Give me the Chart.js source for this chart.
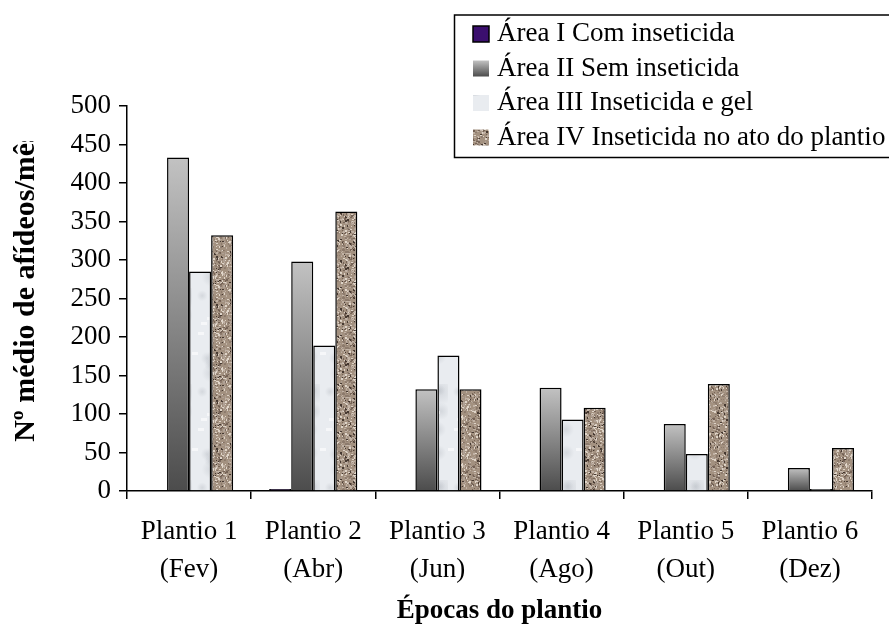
<!DOCTYPE html>
<html>
<head>
<meta charset="utf-8">
<script src="https://cdn.jsdelivr.net/npm/chart.js@4.4.1/dist/chart.umd.min.js"></script>
<style>
  html, body { margin: 0; padding: 0; background: #fff; }
  #wrap { width: 889px; height: 627px; position: relative; }
</style>
</head>
<body>
<div id="wrap"><canvas id="c" width="889" height="627"></canvas></div>
<script>
// ---- data ----
const categories = [["Plantio 1", "(Fev)"], ["Plantio 2", "(Abr)"], ["Plantio 3", "(Jun)"], ["Plantio 4", "(Ago)"], ["Plantio 5", "(Out)"], ["Plantio 6", "(Dez)"]];
const seriesNames = ["Área I Com inseticida", "Área II Sem inseticida", "Área III Inseticida e gel", "Área IV Inseticida no ato do plantio"];
const areaI   = [0, 2.5, 0, 0, 0, 0];
const areaII  = [433, 298, 132, 134, 87, 30];
const areaIII = [285, 189, 176, 93, 48, 2.5];
const areaIV  = [332, 363, 132, 108, 139, 56];
const yTicks = { min: 0, max: 500, step: 50 };
const xTitle = "Épocas do plantio";
const yTitle = "Nº médio de afídeos/mês";

// ---- styling helpers ----
const canvas = document.getElementById('c');
const ctx0 = canvas.getContext('2d');
function rng(seed) { let s = seed >>> 0; return () => { s = (Math.imul(s, 1664525) + 1013904223) >>> 0; return s / 4294967296; }; }

function makeGranite() {
  const c = document.createElement('canvas'); c.width = 48; c.height = 48;
  const g = c.getContext('2d');
  g.fillStyle = '#a39180'; g.fillRect(0, 0, 48, 48);
  const r = rng(11);
  const cols = ['rgba(228,218,206,0.9)', 'rgba(196,182,168,0.9)', 'rgba(140,122,108,0.9)', 'rgba(110,92,80,0.85)', 'rgba(60,48,40,0.9)', 'rgba(176,162,150,0.9)'];
  const w = [0.18, 0.2, 0.2, 0.17, 0.12, 0.13];
  for (let i = 0; i < 700; i++) {
    const x = Math.floor(r() * 48), y = Math.floor(r() * 48);
    let t = r(), k = 0, acc = w[0];
    while (t > acc && k < w.length - 1) { k++; acc += w[k]; }
    g.fillStyle = cols[k];
    g.fillRect(x, y, r() < 0.5 ? 2 : 1, r() < 0.5 ? 2 : 1);
  }
  return ctx0.createPattern(c, 'repeat');
}
function makeMarble() {
  const c = document.createElement('canvas'); c.width = 64; c.height = 96;
  const g = c.getContext('2d');
  g.fillStyle = '#e9ecf0'; g.fillRect(0, 0, 64, 96);
  const r = rng(5);
  for (let i = 0; i < 16; i++) {
    const x = r() * 64, y = r() * 96, rad = 4 + r() * 10;
    const rg = g.createRadialGradient(x, y, 0, x, y, rad);
    rg.addColorStop(0, 'rgba(180,185,192,0.4)');
    rg.addColorStop(1, 'rgba(180,185,192,0)');
    g.fillStyle = rg; g.fillRect(x - rad, y - rad, rad * 2, rad * 2);
  }
  for (let i = 0; i < 6; i++) {
    g.fillStyle = 'rgba(255,255,255,0.6)';
    g.fillRect(Math.floor(r() * 64), Math.floor(r() * 96), 6, 3);
  }
  return ctx0.createPattern(c, 'repeat');
}
const granite = makeGranite();
const marble = makeMarble();
const purple = '#3b0f6e';

function grayGradient(ctx, top, bottom) {
  if (!isFinite(top) || !isFinite(bottom) || top === bottom) return '#8a8a8a';
  const g = ctx.createLinearGradient(0, top, 0, bottom);
  g.addColorStop(0, '#c2c2c2');
  g.addColorStop(1, '#4c4c4c');
  return g;
}

const serif = "'Liberation Serif', 'Times New Roman', serif";

// y title plugin (clipped at the top like the reference)
const yTitlePlugin = {
  id: 'yTitle',
  afterDraw(chart) {
    const c = chart.ctx;
    c.save();
    c.beginPath(); c.rect(0, 141, 120, 486); c.clip();
    c.translate(34, 286.5);
    c.rotate(-Math.PI / 2);
    c.font = 'bold 30px ' + serif;
    c.fillStyle = '#000';
    c.textAlign = 'center';
    c.textBaseline = 'alphabetic';
    c.fillText(yTitle, 0, 0);
    c.restore();
  }
};

// legend box plugin
const legendPlugin = {
  id: 'boxLegend',
  afterDraw(chart) {
    const c = chart.ctx;
    c.save();
    c.lineWidth = 1.5; c.strokeStyle = '#000';
    c.strokeRect(454.5, 15, 450, 142.5);
    c.font = '27px ' + serif;
    c.textBaseline = 'middle';
    c.textAlign = 'left';
    chart.data.datasets.forEach((ds, i) => {
      const cy = 34 + i * 34.5;
      const x0 = 473, s = 16;
      let fill;
      if (i === 0) fill = purple;
      else if (i === 1) fill = grayGradient(c, cy - s / 2, cy + s / 2);
      else if (i === 2) fill = marble;
      else fill = granite;
      c.fillStyle = fill;
      c.fillRect(x0, cy - s / 2, s, s);
      if (i === 0) { c.lineWidth = 1.5; c.strokeStyle = '#000'; c.strokeRect(x0, cy - s / 2, s, s); }
      c.fillStyle = '#000';
      c.fillText(ds.label, 497, cy);
    });
    c.restore();
  }
};

const commonBar = { borderColor: '#000', borderWidth: 1.5, barPercentage: 1.0, categoryPercentage: 0.71 };

new Chart(canvas, {
  type: 'bar',
  data: {
    labels: categories,
    datasets: [
      Object.assign({ label: seriesNames[0], data: areaI, backgroundColor: purple }, commonBar),
      Object.assign({
        label: seriesNames[1], data: areaII,
        backgroundColor: (cx) => {
          const ch = cx.chart, ys = ch.scales && ch.scales.y;
          if (!ys || cx.type !== 'data') return '#8a8a8a';
          return grayGradient(ch.ctx, ys.getPixelForValue(cx.raw), ys.getPixelForValue(0));
        }
      }, commonBar),
      Object.assign({ label: seriesNames[2], data: areaIII, backgroundColor: marble }, commonBar),
      Object.assign({ label: seriesNames[3], data: areaIV, backgroundColor: granite }, commonBar)
    ]
  },
  options: {
    responsive: false,
    animation: false,
    devicePixelRatio: 1,
    layout: { padding: { top: 106, right: 17, left: 0, bottom: 0 } },
    plugins: { legend: { display: false }, tooltip: { enabled: false } },
    scales: {
      x: {
        grid: { display: true, drawOnChartArea: false, drawTicks: true, tickLength: 8, color: '#000', lineWidth: 1.5, offset: true },
        border: { display: true, color: '#000', width: 1.5 },
        ticks: { font: { family: serif, size: 27, lineHeight: 1.4 }, color: '#000', padding: 14, maxRotation: 0, autoSkip: false },
        title: { display: true, text: xTitle, color: '#000', font: { family: serif, size: 27, weight: 'bold' }, padding: { top: 0, bottom: 0 } },
        afterFit: (s) => { s.height = 136; }
      },
      y: {
        min: yTicks.min, max: yTicks.max,
        grid: { display: true, drawOnChartArea: false, drawTicks: true, tickLength: 8, color: '#000', lineWidth: 1.5 },
        border: { display: true, color: '#000', width: 1.5 },
        ticks: { stepSize: yTicks.step, font: { family: serif, size: 27 }, color: '#000', padding: 8 },
        afterFit: (s) => { s.width = 127; }
      }
    }
  },
  plugins: [yTitlePlugin, legendPlugin]
});
</script>
</body>
</html>
